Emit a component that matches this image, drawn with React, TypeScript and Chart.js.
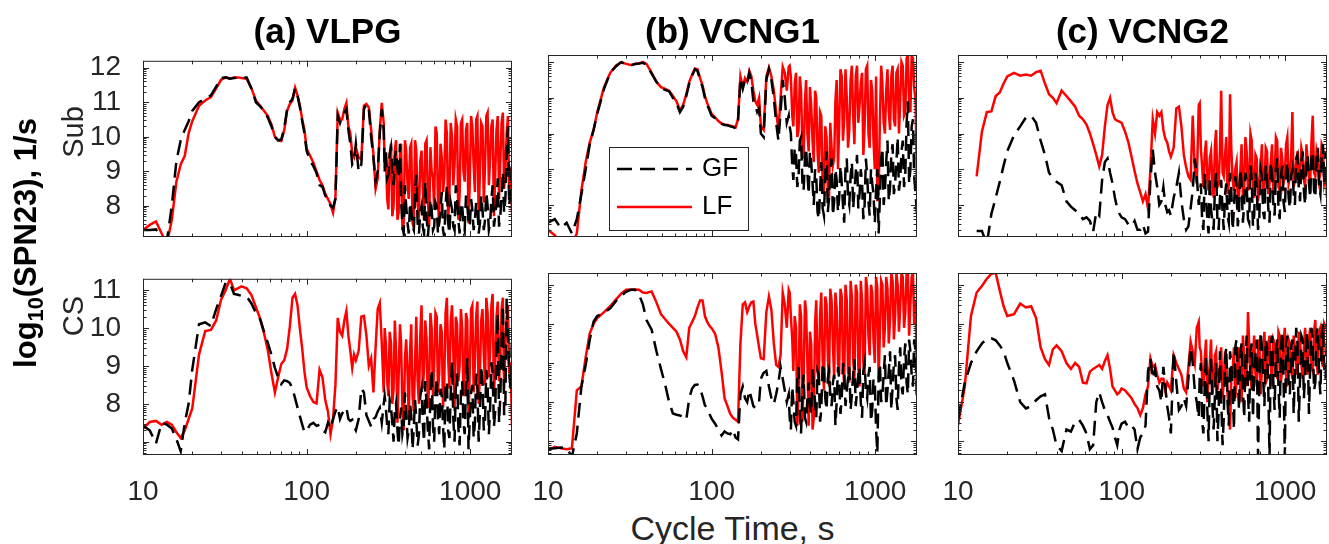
import React, { useEffect, useRef } from "react";
import { Chart, registerables } from "chart.js";

Chart.register(...registerables);

// ---------------- DATA ----------------
// Cycle time grid (s), shared by all series
const cycleTime = [
  10, 11, 12, 13, 14, 15, 16, 17, 18, 19,
  20, 22, 24, 26, 28, 30, 32, 34, 36, 38,
  40, 43, 46, 49, 52, 55, 58, 61, 64, 67,
  70, 73, 76, 79, 82, 85, 88, 91, 94, 97,
  100,
  105, 110, 115, 120, 125, 130, 135, 140, 145, 150,
  155, 160, 165, 170, 175, 180, 185, 190, 195, 200,
  208, 216, 224, 232, 240, 248, 256, 264, 272, 280,
  288, 296,
  300, 305, 311, 316, 322, 328, 334, 340, 346, 352,
  359, 365, 372, 378, 385, 392, 399, 406, 414, 421,
  429, 436, 444, 452, 460, 468, 477, 486, 495, 504,
  513, 522, 531, 541, 551, 561, 571, 581, 592, 602,
  613, 624, 635, 646, 658, 670, 682, 694, 707, 720,
  733, 746, 760, 774, 788, 802, 816, 831, 846, 861,
  877, 893, 909, 925, 942, 959, 976, 994, 1012, 1030,
  1049, 1068, 1087, 1106, 1126, 1146, 1167, 1188, 1210, 1232,
  1254, 1277, 1300, 1323, 1347, 1371, 1396, 1421, 1447, 1473,
  1500, 1527, 1555, 1583, 1611, 1640, 1670, 1700, 1730, 1765,
  1800,
];

// (a) VLPG, Sub
const vlpgSubGF = [
  7.3, 7.3, 7.32, 7.1, 7.0, 8.0, 9.3, 9.9, 10.2, 10.45,
  10.75, 11.0, 11.1, 11.2, 11.45, 11.7, 11.72, 11.68, 11.7, 11.72,
  11.72, 11.72, 11.4, 11.0, 10.88, 10.75, 10.55, 10.3, 10.0, 9.9,
  9.92, 10.25, 10.8, 11.0, 11.1, 11.4, 11.2, 10.85, 10.45, 10.1,
  9.6,
  9.3, 9.15, 8.95, 8.6, 8.55, 8.3, 8.2, 8.0, 7.95, 8.2,
  10.6, 10.4, 10.6, 10.7, 10.8, 10.2, 9.8, 9.2, 9.3, 9.8,
  9.0, 9.2, 10.8, 10.95, 10.8, 10.0, 9.4, 8.7, 9.0, 10.1,
  10.8, 10.2,
  9.0, 9.6, 8.8, 8.9, 9.5, 9.7, 9.0, 8.6, 9.4, 9.6,
  9.1, 8.8, 9.8, 8.2, 7.4, 7.2, 8.6, 8.0, 7.5, 7.2,
  8.1, 7.9, 7.4, 7.3, 8.3, 8.9, 7.5, 7.2, 7.8, 8.0,
  7.4, 7.2, 8.7, 7.7, 7.1, 7.6, 8.2, 7.9, 7.3, 7.4,
  8.1, 8.0, 7.2, 7.5, 7.9, 8.4, 7.3, 7.1, 8.0, 8.6,
  7.5, 7.2, 8.1, 7.9, 7.4, 7.3, 8.6, 8.2, 7.6, 7.2,
  8.1, 8.0, 7.5, 7.3, 8.3, 8.0, 7.6, 7.4, 8.2, 7.9,
  7.3, 7.6, 8.1, 8.0, 7.2, 7.5, 8.3, 7.9, 7.3, 7.6,
  8.4, 8.0, 7.3, 7.5, 8.2, 8.6, 7.4, 7.7, 8.1, 8.8,
  7.4, 7.7, 8.3, 9.0, 7.8, 8.2, 9.6, 10.3, 8.0, 8.5,
  9.3,
];
const vlpgSubLF = [
  7.3, 7.45, 7.55, 7.2, 6.9, 7.6, 8.7, 9.2, 9.45, 10.1,
  10.45, 10.9, 11.05, 11.15, 11.4, 11.65, 11.72, 11.68, 11.72, 11.72,
  11.7, 11.68, 11.4, 11.05, 10.9, 10.75, 10.6, 10.35, 10.0, 9.9,
  9.88, 10.2, 10.75, 10.95, 11.05, 11.42, 11.2, 10.9, 10.5, 10.2,
  9.65,
  9.45, 9.25, 9.0, 8.75, 8.6, 8.35, 8.2, 8.05, 7.8, 8.25,
  10.7, 10.5, 10.5, 10.8, 10.98, 10.3, 10.1, 9.5, 9.4, 9.7,
  9.4, 9.35, 10.9, 10.95, 10.85, 10.2, 9.5, 8.5, 8.8, 10.2,
  10.98, 10.4,
  9.1, 9.4, 8.2, 7.9, 9.5, 9.8, 7.7, 8.0, 9.6, 9.9,
  7.6, 7.8, 9.5, 9.8, 7.3, 7.5, 9.9, 9.6, 8.6, 8.2,
  9.7, 9.8, 7.5, 7.4, 9.9, 9.6, 8.0, 7.8, 9.3, 9.6,
  8.5, 7.6, 9.8, 9.9, 8.2, 7.4, 9.7, 9.0, 8.8, 7.9,
  10.3, 10.1, 8.1, 7.5, 9.8, 9.4, 8.4, 8.8, 10.5, 10.1,
  7.6, 8.3, 10.4, 10.0, 8.6, 9.2, 10.5, 10.3, 7.6, 8.3,
  10.4, 10.5, 9.0, 8.7, 10.2, 10.4, 7.5, 8.7, 10.6, 10.3,
  9.2, 8.4, 10.5, 10.6, 7.6, 9.0, 10.4, 10.3, 8.1, 9.2,
  10.6, 10.7, 8.6, 9.4, 10.3, 10.5, 7.7, 8.9, 10.2, 10.6,
  8.2, 9.3, 10.4, 10.7, 8.5, 9.0, 10.1, 10.6, 8.3, 9.1,
  7.8,
];

// (b) VCNG1, Sub
const vcng1SubGF = [
  7.5, 7.6, 7.35, 7.5, 7.2, 7.6, 8.3, 9.0, 9.7, 10.1,
  10.55, 11.25, 11.7, 11.88, 12.0, 11.93, 11.9, 11.95, 11.96, 11.98,
  11.93, 11.68, 11.45, 11.28, 11.22, 11.18, 11.0, 10.85, 10.6, 10.75,
  11.05, 11.4, 11.62, 11.8, 11.75, 11.5, 11.3, 11.0, 10.8, 10.65,
  10.5,
  10.43, 10.33, 10.27, 10.24, 10.23, 10.2, 10.18, 10.15, 10.35, 11.55,
  11.25, 11.5, 11.4, 11.7, 11.45, 10.9, 10.8, 10.6, 10.7, 10.0,
  9.9, 11.5, 11.8, 11.5, 11.0, 10.3, 9.8, 10.6, 11.5, 11.0,
  10.3, 10.5,
  10.2, 10.0, 9.1, 8.7, 9.6, 9.4, 8.5, 8.8, 9.8, 9.9,
  8.6, 8.4, 9.3, 9.6, 8.9, 8.3, 9.5, 9.2, 8.6, 8.0,
  9.0, 8.8, 7.8, 7.6, 8.4, 9.2, 7.9, 7.7, 8.9, 9.5,
  7.8, 8.2, 8.9, 9.3, 7.7, 8.1, 9.0, 8.7, 7.8, 8.2,
  9.1, 8.6, 8.0, 7.5, 9.0, 9.3, 8.2, 8.0, 8.8, 9.2,
  7.9, 8.4, 8.9, 9.4, 7.9, 8.3, 9.0, 8.6, 7.6, 8.0,
  9.3, 8.8, 8.1, 7.7, 9.0, 8.6, 8.3, 7.5, 8.4, 9.0,
  7.2, 8.2, 9.3, 9.6, 8.0, 8.4, 9.2, 9.8, 8.1, 8.5,
  9.4, 9.7, 8.3, 8.6, 9.2, 9.9, 8.4, 8.7, 9.5, 9.8,
  8.5, 8.9, 10.3, 10.9, 8.6, 9.0, 10.2, 10.4, 8.8, 8.3,
  7.7,
];
const vcng1SubLF = [
  7.3, 7.15, 6.9, 6.9, 6.9, 7.2, 8.4, 9.2, 9.75, 10.1,
  10.6, 11.3, 11.7, 11.9, 12.0, 11.95, 11.92, 11.95, 11.97, 12.0,
  11.95, 11.7, 11.45, 11.3, 11.25, 11.2, 11.05, 10.9, 10.65, 10.8,
  11.1, 11.45, 11.65, 11.82, 11.8, 11.55, 11.35, 11.05, 10.85, 10.7,
  10.55,
  10.45, 10.35, 10.28, 10.25, 10.24, 10.22, 10.2, 10.17, 10.4, 11.6,
  11.3, 11.55, 11.45, 11.75, 11.6, 11.2, 10.9, 10.8, 11.0, 10.2,
  10.1, 11.6, 11.85, 11.6, 11.2, 10.6, 10.1, 11.0, 11.87, 11.7,
  11.2, 11.87,
  11.9, 11.6, 10.5, 10.2, 11.4, 11.7, 9.9, 10.1, 11.6, 11.2,
  9.6, 9.3, 10.9, 11.5, 10.0, 9.5, 11.3, 10.8, 9.8, 9.2,
  11.2, 11.0, 9.5, 8.9, 10.6, 10.5, 8.6, 8.3, 10.2, 9.9,
  8.4, 8.2, 10.3, 9.6, 9.1, 9.3, 10.9, 11.5, 9.0, 10.2,
  11.8, 11.6, 9.8, 10.4, 11.8, 11.0, 9.6, 10.1, 11.5, 11.9,
  10.5, 9.7, 11.6, 11.9, 10.3, 10.8, 11.4, 11.7, 9.4, 10.2,
  11.8, 11.9, 10.0, 9.6, 11.5, 11.2, 9.8, 9.0, 11.6, 8.1,
  8.3, 10.4, 11.9, 11.4, 10.3, 10.0, 11.2, 11.8, 10.6, 10.1,
  11.6, 11.9, 10.4, 10.2, 11.7, 11.8, 10.0, 10.9, 12.0, 11.9,
  10.5, 10.6, 12.1, 12.2, 10.8, 10.6, 12.2, 12.1, 11.3, 10.9,
  8.4,
];

// (c) VCNG2, Sub
const vcng2SubGF = [
  null, null, null, 7.27, 7.27, 6.9, 7.75, 8.2, 8.65, 9.1,
  9.5, 9.95, 10.2, 10.45, 10.5, 10.3, 9.8, 9.4, 8.9, 8.75,
  8.65, 8.55, 8.1, 7.95, 7.85, 7.75, 7.6, 7.65, 7.55, 7.25,
  7.8, 7.7, 8.7, 9.2, 9.3, 8.9, 8.6, 8.2, 7.9, 7.75,
  7.65,
  7.6, 7.45, 7.4, 7.55, 7.3, 7.3, 7.45, 7.2, 7.25, 8.7,
  9.55, 8.9, 8.5, 8.0, 8.1, 8.5, 8.0, 7.8, 7.85, 7.7,
  8.2, 8.5, 8.9, 8.1, 7.6, 7.3, 7.4, 7.9, 8.4, 9.3,
  8.8, 8.0,
  8.3, 8.6, 7.5, 7.3, 8.9, 8.2, 7.6, 7.2, 8.8, 7.9,
  7.5, 7.3, 8.5, 8.9, 7.6, 7.3, 8.2, 8.7, 7.8, 7.3,
  8.3, 8.6, 7.7, 7.5, 8.9, 8.4, 7.3, 7.9, 8.8, 8.5,
  7.4, 7.8, 9.0, 8.6, 7.5, 8.0, 8.9, 8.6, 7.6, 7.5,
  9.1, 8.7, 7.4, 7.7, 8.9, 8.5, 7.3, 7.6, 9.0, 8.8,
  7.8, 7.6, 9.1, 8.7, 7.9, 7.5, 9.2, 8.8, 8.0, 7.7,
  9.0, 9.3, 7.9, 7.6, 8.8, 9.1, 8.1, 7.8, 8.9, 9.2,
  8.2, 7.9, 8.8, 9.0, 8.3, 8.0, 9.3, 9.4, 8.5, 8.1,
  9.2, 9.5, 8.4, 8.0, 9.1, 9.4, 8.6, 8.2, 9.3, 9.5,
  8.4, 8.2, 9.3, 9.6, 8.5, 8.3, 9.4, 9.7, 8.6, 9.5,
  8.2,
];
const vcng2SubLF = [
  null, null, null, 8.8, 10.05, 10.6, 10.62, 11.05, 11.15, 11.4,
  11.6, 11.7, 11.62, 11.65, 11.62, 11.72, 11.76, 11.4, 11.1, 11.0,
  10.85, 11.2, 11.05, 10.9, 10.75, 10.5, 10.4, 10.25, 10.0, 9.7,
  9.4, 9.08, 9.4, 10.2, 10.8, 11.0, 10.6, 10.4, 10.36, 10.33,
  10.3,
  10.05, 9.75, 9.35, 8.95, 8.6, 8.35, 8.1, 8.3, 7.9, 9.0,
  10.4, 10.0, 10.6, 10.5, 10.6, 10.1, 9.85, 9.75, 9.5, 9.35,
  9.6, 10.7, 10.75, 10.2, 9.4, 9.05, 8.8, 8.7, 10.5, 9.0,
  8.6, 10.8,
  10.85, 9.6, 9.0, 8.5, 9.4, 9.8, 8.7, 8.4, 9.3, 9.5,
  8.6, 8.2, 9.7, 10.1, 8.5, 8.6, 9.5, 11.2, 8.9, 8.8,
  9.4, 9.9, 8.3, 8.6, 11.1, 9.6, 8.7, 8.4, 9.0, 9.2,
  8.1, 8.3, 8.9, 9.7, 8.2, 8.5, 9.9, 9.5, 8.4, 8.6,
  10.0, 9.8, 8.5, 8.2, 9.4, 9.3, 8.1, 8.5, 9.0, 9.7,
  8.3, 8.4, 9.6, 9.5, 8.3, 8.6, 9.2, 9.7, 8.4, 8.7,
  9.9, 9.8, 8.5, 8.4, 9.6, 9.3, 8.6, 8.8, 9.7, 9.9,
  8.6, 8.8, 9.4, 10.6, 8.5, 8.7, 9.2, 9.5, 8.6, 8.9,
  9.6, 9.4, 8.7, 8.5, 9.7, 9.2, 8.8, 8.6, 9.8, 10.5,
  8.9, 8.8, 9.5, 9.3, 8.7, 8.9, 9.7, 9.6, 8.6, 8.8,
  8.4,
];

// (a) VLPG, CS
const vlpgCsGF = [
  7.42, 7.3, 6.95, 7.5, 7.45, 7.35, 7.07, 6.75, 7.5, 8.0,
  8.9, 10.1, 10.15, 10.05, 10.5, 10.85, 11.2, 11.18, 10.9, 10.88,
  10.85, 10.83, 10.65, 10.4, 10.23, 9.9, 9.6, 9.29, 8.95, 8.7,
  8.52, 8.62, 8.6, 8.55, 8.4, 8.15, 7.9, 7.67, 7.45, 7.25,
  7.3,
  7.45, 7.5, 7.42, 7.45, 7.3, 7.25, 7.5, 7.35, 7.6, 7.8,
  7.92, 7.6, 7.75, 7.8, 7.9, 7.6, 7.55, 7.58, 7.4, 7.3,
  7.6, 8.4, 8.3, 7.7, 7.55, 7.4, 7.6, 7.65, 7.8, 7.9,
  7.5, 8.0,
  8.2, 7.9, 7.4, 7.2, 8.1, 7.9, 7.5, 7.0, 7.8, 8.0,
  7.3, 6.9, 7.6, 7.9, 7.2, 7.4, 8.3, 7.8, 7.1, 7.3,
  8.0, 7.7, 6.8, 7.4, 8.1, 7.6, 6.9, 7.2, 8.2, 8.4,
  7.5, 7.0, 8.6, 8.0, 7.3, 6.8, 8.3, 8.9, 7.4, 7.0,
  8.3, 8.7, 7.6, 7.2, 8.4, 8.2, 7.4, 6.8, 8.5, 8.6,
  7.3, 7.1, 8.3, 9.1, 7.6, 7.0, 8.4, 8.8, 7.4, 6.9,
  8.3, 8.6, 7.5, 7.2, 8.4, 9.2, 6.8, 7.6, 8.3, 8.5,
  7.1, 7.5, 8.8, 8.4, 7.0, 7.8, 9.0, 8.6, 7.3, 7.6,
  8.9, 8.5, 7.2, 7.9, 9.1, 8.8, 7.4, 7.8, 9.4, 10.4,
  7.5, 8.2, 9.6, 10.6, 7.7, 8.0, 10.8, 9.9, 8.8, 8.4,
  9.8,
];
const vlpgCsLF = [
  7.35, 7.52, 7.55, 7.45, 7.52, 7.45, 7.25, 7.1, 7.3, 7.6,
  7.88, 9.3, 9.92, 9.95, 10.2, 10.75, 11.0, 11.3, 11.0, 11.05,
  11.1, 11.05, 10.87, 10.55, 10.25, 9.85, 9.4, 8.8, 8.3, 8.7,
  9.05, 9.15, 9.45, 10.05, 10.8, 10.9, 10.6, 9.98, 9.45, 8.85,
  8.44,
  8.2, 8.05, 8.01, 8.9, 8.7, 8.1, 7.8, 7.2, 7.6, 8.5,
  10.27, 9.9, 9.8, 10.2, 10.45, 9.8, 9.4, 8.95, 9.3, 9.15,
  9.4, 10.3, 10.32, 9.8, 9.0, 9.2, 8.3, 9.5, 10.5, 10.66,
  9.6, 8.3,
  10.0, 9.6, 8.6, 8.2, 9.9, 9.6, 8.0, 8.4, 10.2, 9.4,
  7.5, 8.7, 10.1, 9.6, 7.9, 7.3, 9.2, 9.7, 8.8, 7.6,
  9.4, 10.1, 8.2, 7.8, 9.1, 10.3, 8.6, 8.0, 9.8, 10.6,
  8.4, 8.9, 10.2, 9.7, 7.9, 8.5, 10.4, 10.0, 8.2, 9.0,
  10.4, 10.3, 8.3, 8.8, 10.1, 9.9, 7.9, 8.6, 10.4, 10.8,
  9.2, 8.4, 10.2, 10.6, 9.4, 7.8, 10.3, 10.1, 8.6, 9.0,
  10.5, 10.0, 8.2, 8.7, 10.4, 10.2, 7.6, 8.9, 10.5, 10.6,
  8.3, 9.1, 10.3, 10.7, 8.0, 8.8, 10.2, 10.5, 9.3, 8.5,
  10.8, 10.4, 8.7, 9.4, 10.6, 10.9, 8.2, 9.0, 10.3, 10.7,
  8.6, 9.2, 10.5, 10.8, 8.4, 9.5, 10.3, 10.6, 8.8, 9.1,
  7.4,
];

// (b) VCNG1, CS
const vcng1CsGF = [
  6.81, 6.82, 6.84, 6.83, 6.6, 7.2, 8.4, 8.95, 9.6, 10.06,
  10.2, 10.28, 10.4, 10.58, 10.72, 10.82, 10.87, 10.87, 10.75, 10.5,
  10.1, 9.85, 9.3, 8.85, 8.45, 8.0, 7.71, 7.68, 7.66, 7.62,
  7.55, 8.1, 8.35, 8.44, 8.45, 8.35, 8.15, 7.92, 7.85, 7.7,
  7.58,
  7.45, 7.3, 7.15, 7.25, 7.2, 7.18, 7.3, 7.1, 7.05, 8.2,
  8.4, 8.1, 8.0, 8.3, 8.1, 7.9, 7.85, 7.92, 8.0, 8.6,
  8.75, 8.8, 8.4, 8.1, 7.95, 8.2, 8.5, 8.9, 8.6, 8.3,
  8.0, 8.2,
  7.6, 7.3, 8.4, 8.0, 7.5, 7.4, 8.6, 8.9, 7.8, 7.2,
  8.3, 8.7, 7.6, 7.5, 8.1, 8.5, 7.9, 7.7, 8.9, 8.4,
  8.0, 7.6, 8.8, 8.7, 7.5, 7.8, 9.0, 8.9, 8.1, 7.8,
  8.6, 8.8, 8.2, 7.9, 8.5, 8.7, 7.4, 8.0, 8.9, 8.6,
  7.7, 8.1, 9.0, 8.8, 7.9, 8.3, 8.6, 8.9, 7.8, 8.2,
  8.7, 9.1, 7.9, 8.3, 8.7, 8.9, 8.0, 7.6, 8.8, 9.0,
  8.3, 8.1, 8.7, 8.9, 7.5, 7.8, 8.6, 8.5, 7.3, 6.7,
  8.6, 9.0, 8.0, 8.2, 8.7, 9.2, 7.9, 8.3, 8.8, 9.3,
  7.8, 8.4, 9.0, 9.2, 8.1, 7.8, 8.9, 9.4, 8.4, 8.2,
  9.1, 9.5, 8.5, 8.2, 9.6, 9.3, 8.7, 8.4, 9.6, 9.3,
  8.0,
];
const vcng1CsLF = [
  6.77, 6.86, 6.82, 6.8, 6.82, 8.3, 8.4, 9.15, 9.76, 10.0,
  10.15, 10.3, 10.45, 10.62, 10.77, 10.87, 10.88, 10.88, 10.87, 10.8,
  10.79, 10.83, 10.55, 10.25, 10.12, 10.0, 9.9, 9.8, 9.6, 9.3,
  9.15, 9.9, 10.05, 10.2, 10.42, 10.6, 10.6, 10.2, 10.05, 9.95,
  9.89,
  9.75, 9.4, 8.78, 8.1, 7.9, 7.7, 7.6, 7.55, 7.5, 9.5,
  10.5, 10.55, 10.3, 10.45, 10.55, 10.57, 10.0, 9.7, 9.4, 9.12,
  9.1, 10.3, 10.7, 10.35, 9.5, 8.95, 8.9, 9.2, 10.8, 10.5,
  9.9, 10.87,
  10.8, 10.2, 9.6, 8.8, 10.2, 9.9, 7.4, 8.2, 10.5, 10.2,
  7.5, 8.6, 10.6, 10.3, 9.0, 7.4, 9.8, 9.5, 7.3, 7.6,
  10.0, 10.6, 8.8, 8.5, 10.2, 10.8, 9.1, 8.3, 10.7, 10.5,
  9.2, 8.4, 10.9, 10.6, 9.5, 8.6, 10.8, 10.4, 9.0, 8.7,
  10.9, 10.7, 9.0, 8.4, 11.0, 10.6, 8.8, 8.5, 11.1, 10.7,
  9.1, 8.6, 11.0, 10.8, 8.9, 8.4, 11.1, 10.6, 9.0, 8.7,
  11.2, 10.9, 9.7, 9.2, 11.0, 10.8, 9.6, 9.0, 11.2, 10.9,
  8.6, 9.8, 11.1, 11.0, 9.4, 9.9, 11.2, 10.9, 9.5, 10.1,
  11.3, 11.1, 9.6, 10.2, 11.3, 11.0, 9.8, 10.4, 11.3, 11.2,
  9.9, 10.3, 11.3, 11.3, 9.7, 10.5, 11.2, 11.3, 10.0, 10.6,
  8.2,
];

// (c) VCNG2, CS
const vcng2CsGF = [
  7.55, 8.5, 9.0, 9.3, 9.5, 9.62, 9.63, 9.58, 9.45, 9.3,
  9.0, 8.55, 8.0, 7.84, 7.9, 8.05, 8.15, 8.2, 7.6, 7.3,
  6.9, 6.75, 7.3, 7.25, 7.5, 7.55, 7.4, 7.2, 6.8, 6.9,
  8.0, 8.25, 8.0, 7.8, 7.67, 7.5, 7.35, 7.1, 6.9, 7.3,
  7.45,
  7.5, 7.35, 7.4, 7.3, 6.8, 7.1, 7.2, 7.4, 8.8, 9.1,
  8.6, 8.85, 8.4, 8.3, 8.0, 8.9, 8.4, 7.9, 7.6, 7.2,
  9.3, 8.5, 7.8, 7.9, 8.1, 7.9, 8.6, 9.4, 9.0, 8.3,
  8.0, 7.6,
  8.6, 9.0, 7.5, 7.2, 8.4, 9.2, 7.8, 7.0, 8.7, 9.1,
  7.9, 7.3, 8.2, 9.0, 7.0, 7.8, 9.3, 8.1, 6.9, 7.6,
  9.1, 9.4, 8.0, 7.4, 9.3, 9.0, 8.3, 7.3, 9.4, 9.6,
  8.6, 7.8, 9.2, 9.5, 8.4, 7.6, 9.0, 9.7, 8.2, 7.5,
  9.3, 9.5, 7.6, 8.8, 9.2, 9.6, 6.6, 8.4, 9.8, 9.4,
  8.6, 7.9, 9.6, 9.4, 8.3, 6.6, 9.5, 9.7, 8.5, 7.8,
  9.3, 9.6, 8.4, 7.6, 9.4, 9.8, 8.7, 6.6, 9.5, 9.7,
  8.5, 8.2, 9.4, 9.6, 7.7, 8.8, 9.9, 9.5, 7.5, 8.6,
  9.7, 9.6, 8.1, 8.7, 9.8, 9.5, 7.7, 8.9, 9.9, 9.6,
  8.3, 8.5, 9.8, 9.9, 8.7, 8.2, 9.7, 10.0, 8.9, 8.6,
  9.7,
];
const vcng2CsLF = [
  7.41, 8.4, 10.2, 10.8, 10.97, 11.15, 11.28, 11.3, 10.85, 10.45,
  10.2, 10.25, 10.52, 10.42, 10.45, 10.15, 9.4, 9.1, 8.95, 9.35,
  9.45, 9.3, 9.0, 8.85, 9.0, 8.9, 8.5, 8.48, 8.78, 8.85,
  8.9, 8.95, 8.85, 9.05, 9.2, 8.85, 8.4, 8.3, 8.2, 8.25,
  8.35,
  8.3, 8.2, 8.1, 7.95, 7.85, 7.67, 7.85, 8.2, 8.4, 9.12,
  8.9, 8.95, 8.7, 8.5, 8.6, 8.6, 8.3, 8.5, 8.4, 8.3,
  9.2, 9.0, 8.85, 8.7, 8.35, 8.25, 8.9, 9.55, 9.3, 9.0,
  9.9, 10.05,
  9.4, 9.3, 8.6, 8.4, 9.1, 9.6, 8.0, 8.6, 9.0, 9.6,
  8.2, 8.5, 9.2, 9.3, 8.3, 8.6, 9.0, 9.4, 8.1, 8.5,
  9.3, 9.0, 8.2, 7.8, 7.3, 8.6, 8.8, 9.4, 8.1, 8.5,
  9.2, 9.4, 8.3, 8.0, 9.7, 9.2, 8.4, 8.6, 10.3, 9.5,
  8.7, 8.3, 9.2, 9.7, 8.7, 8.4, 9.4, 9.6, 8.2, 8.8,
  9.3, 9.8, 8.5, 8.6, 9.5, 9.7, 8.9, 8.4, 9.6, 9.5,
  8.8, 8.6, 9.8, 9.7, 8.5, 8.9, 9.5, 9.9, 8.7, 8.4,
  9.6, 9.5, 8.8, 8.6, 9.7, 9.4, 8.9, 8.7, 9.8, 9.6,
  9.0, 8.6, 9.4, 9.9, 9.0, 8.7, 9.6, 9.9, 8.9, 8.8,
  9.8, 10.1, 9.0, 8.7, 9.8, 9.9, 9.1, 8.9, 10.0, 9.9,
  9.9,
];

const seriesNames = ["GF", "LF"];
const panelTitles = ["(a) VLPG", "(b) VCNG1", "(c) VCNG2"];
const rowLabels = ["Sub", "CS"];
const xTickValues = [10, 100, 1000];
const subYTicks = [8, 9, 10, 11, 12];
const csYTicks = [8, 9, 10, 11];
const xRange = [10, 1800];
const subYRange = [7.1, 12.2];
const csYRange = [6.65, 11.3];

// ---------------- LAYOUT / STYLE ----------------
const FONT = '"Liberation Sans", Arial, Helvetica, sans-serif';
const INK = "#262626";
const COL_LEFT = [143, 548, 958];
const ROW_TOP = [55, 273];
const PLOT_W = 369;
const PLOT_H = 182;
const AXIS_W = 60;
const AXIS_H = 45;
const PAD_T = 25;
const PAD_R = 25;
const CANVAS_W = AXIS_W + PLOT_W + PAD_R;
const CANVAS_H = PAD_T + PLOT_H + AXIS_H;
const TICK_FONT = 28;
const LINE_W = 2.5;

Chart.defaults.font.family = FONT;

const axesBoxPlugin = {
  id: "axesBox",
  afterDatasetsDraw(chart: any) {
    const { ctx, chartArea, scales } = chart;
    const { left, right, top, bottom } = chartArea;
    const xs = scales.x;
    const ys = scales.y;
    ctx.save();
    ctx.setLineDash([]);
    ctx.strokeStyle = INK;
    ctx.lineWidth = 1;
    ctx.strokeRect(left + 0.5, top + 0.5, right - left - 1, bottom - top - 1);
    ctx.beginPath();
    for (const d of xTickValues) {
      for (let k = 1; k <= 9; k++) {
        const v = d * k;
        if (v < xs.min || v > xs.max) continue;
        const len = k === 1 ? 6 : 3.5;
        const px = Math.round(xs.getPixelForValue(v)) + 0.5;
        ctx.moveTo(px, bottom);
        ctx.lineTo(px, bottom - len);
        ctx.moveTo(px, top);
        ctx.lineTo(px, top + len);
      }
    }
    for (let n = Math.floor(ys.min); n <= Math.ceil(ys.max); n++) {
      for (let k = 1; k <= 9; k++) {
        const v = n + Math.log10(k);
        if (v < ys.min || v > ys.max) continue;
        const len = k === 1 ? 6 : 3.5;
        const py = Math.round(ys.getPixelForValue(v)) + 0.5;
        ctx.moveTo(left, py);
        ctx.lineTo(left + len, py);
        ctx.moveTo(right, py);
        ctx.lineTo(right - len, py);
      }
    }
    ctx.stroke();
    ctx.restore();
  },
};

const insetLegendPlugin = {
  id: "insetLegend",
  afterDraw(chart: any) {
    const { ctx, chartArea } = chart;
    const bx = chartArea.left + 61;
    const by = chartArea.top + 92;
    const bw = 139;
    const bh = 83;
    ctx.save();
    ctx.fillStyle = "#ffffff";
    ctx.fillRect(bx, by, bw, bh);
    ctx.strokeStyle = INK;
    ctx.lineWidth = 1;
    ctx.setLineDash([]);
    ctx.strokeRect(bx + 0.5, by + 0.5, bw, bh);
    chart.data.datasets.forEach((ds: any, i: number) => {
      const yy = by + 22 + i * 38;
      ctx.strokeStyle = ds.borderColor;
      ctx.lineWidth = ds.borderWidth;
      ctx.setLineDash(ds.borderDash || []);
      ctx.beginPath();
      ctx.moveTo(bx + 8, yy);
      ctx.lineTo(bx + 83, yy);
      ctx.stroke();
      ctx.setLineDash([]);
      ctx.fillStyle = "#000000";
      ctx.font = `26px ${FONT}`;
      ctx.textBaseline = "middle";
      ctx.textAlign = "left";
      ctx.fillText(ds.label, bx + 93, yy);
    });
    ctx.restore();
  },
};

type PanelProps = {
  col: number;
  row: number;
  gf: (number | null)[];
  lf: (number | null)[];
};

function Panel({ col, row, gf, lf }: PanelProps) {
  const ref = useRef<HTMLCanvasElement | null>(null);
  useEffect(() => {
    const yRange = row === 0 ? subYRange : csYRange;
    const yTicks = row === 0 ? subYTicks : csYTicks;
    const showX = row === 1;
    const showY = col === 0;
    const plugins: any[] = [axesBoxPlugin];
    if (row === 0 && col === 1) plugins.push(insetLegendPlugin);
    const chart = new Chart(ref.current as HTMLCanvasElement, {
      type: "line",
      data: {
        datasets: [
          {
            label: seriesNames[0],
            data: cycleTime.map((x, i) => ({ x, y: gf[i] })) as any,
            borderColor: "#000000",
            borderWidth: LINE_W,
            borderDash: [15, 8],
            pointRadius: 0,
            tension: 0,
            fill: false,
            spanGaps: false,
          },
          {
            label: seriesNames[1],
            data: cycleTime.map((x, i) => ({ x, y: lf[i] })) as any,
            borderColor: "#ff0000",
            borderWidth: LINE_W,
            pointRadius: 0,
            tension: 0,
            fill: false,
            spanGaps: false,
          },
        ],
      },
      options: {
        responsive: false,
        animation: false,
        devicePixelRatio: 1,
        events: [],
        layout: { padding: { left: 0, top: PAD_T, right: PAD_R, bottom: 0 } },
        plugins: {
          legend: { display: false },
          tooltip: { enabled: false },
          title: { display: false },
        },
        scales: {
          x: {
            type: "logarithmic",
            position: "bottom",
            min: xRange[0],
            max: xRange[1],
            bounds: "data",
            grid: { display: false },
            border: { display: false },
            ticks: {
              display: showX,
              autoSkip: false,
              maxRotation: 0,
              padding: 12,
              color: INK,
              font: { size: TICK_FONT, family: FONT },
              callback: (v: any) => String(v),
            },
            afterBuildTicks: (s: any) => {
              s.ticks = xTickValues.map((v) => ({ value: v }));
            },
            afterFit: (s: any) => {
              s.height = AXIS_H;
            },
          },
          y: {
            type: "linear",
            position: "left",
            min: yRange[0],
            max: yRange[1],
            bounds: "data",
            grid: { display: false },
            border: { display: false },
            ticks: {
              display: showY,
              autoSkip: false,
              padding: 14,
              color: INK,
              font: { size: TICK_FONT, family: FONT },
              callback: (v: any) => String(v),
            },
            afterBuildTicks: (s: any) => {
              s.ticks = yTicks.map((v) => ({ value: v }));
            },
            afterFit: (s: any) => {
              s.width = AXIS_W;
            },
          },
        },
      } as any,
      plugins,
    });
    return () => chart.destroy();
  }, []);
  return (
    <canvas
      ref={ref}
      width={CANVAS_W}
      height={CANVAS_H}
      style={{
        position: "absolute",
        left: COL_LEFT[col] - AXIS_W,
        top: ROW_TOP[row] - PAD_T,
        width: CANVAS_W,
        height: CANVAS_H,
      }}
    />
  );
}

const panelSeries = [
  [
    [vlpgSubGF, vlpgSubLF],
    [vcng1SubGF, vcng1SubLF],
    [vcng2SubGF, vcng2SubLF],
  ],
  [
    [vlpgCsGF, vlpgCsLF],
    [vcng1CsGF, vcng1CsLF],
    [vcng2CsGF, vcng2CsLF],
  ],
];

function Label({
  x,
  y,
  rotate,
  style,
  children,
}: {
  x: number;
  y: number;
  rotate?: boolean;
  style: React.CSSProperties;
  children: React.ReactNode;
}) {
  return (
    <div
      style={{
        position: "absolute",
        left: x,
        top: y,
        transform: `translate(-50%, -50%)${rotate ? " rotate(-90deg)" : ""}`,
        whiteSpace: "nowrap",
        lineHeight: 1,
        fontFamily: FONT,
        ...style,
      }}
    >
      {children}
    </div>
  );
}

export default function App() {
  return (
    <div
      style={{
        position: "absolute",
        left: 0,
        top: 0,
        width: 1329,
        height: 544,
        background: "#ffffff",
        overflow: "hidden",
      }}
    >
      {panelSeries.map((rowSeries, r) =>
        rowSeries.map((pair, c) => (
          <Panel key={`${r}-${c}`} row={r} col={c} gf={pair[0]} lf={pair[1]} />
        ))
      )}
      {panelTitles.map((t, c) => (
        <Label
          key={t}
          x={COL_LEFT[c] + PLOT_W / 2}
          y={30}
          style={{ fontSize: 35, fontWeight: "bold", color: "#000" }}
        >
          {t}
        </Label>
      ))}
      <Label x={73} y={132} rotate style={{ fontSize: 29, color: INK }}>
        {rowLabels[0]}
      </Label>
      <Label x={73} y={316} rotate style={{ fontSize: 29, color: INK }}>
        {rowLabels[1]}
      </Label>
      <Label x={25} y={243} rotate style={{ fontSize: 31, fontWeight: "bold", color: "#000" }}>
        log
        <span style={{ fontSize: "70%", position: "relative", top: "0.3em" }}>10</span>
        (SPN23), 1/s
      </Label>
      <Label x={COL_LEFT[1] + PLOT_W / 2} y={528} style={{ fontSize: 34, color: INK }}>
        Cycle Time, s
      </Label>
    </div>
  );
}
